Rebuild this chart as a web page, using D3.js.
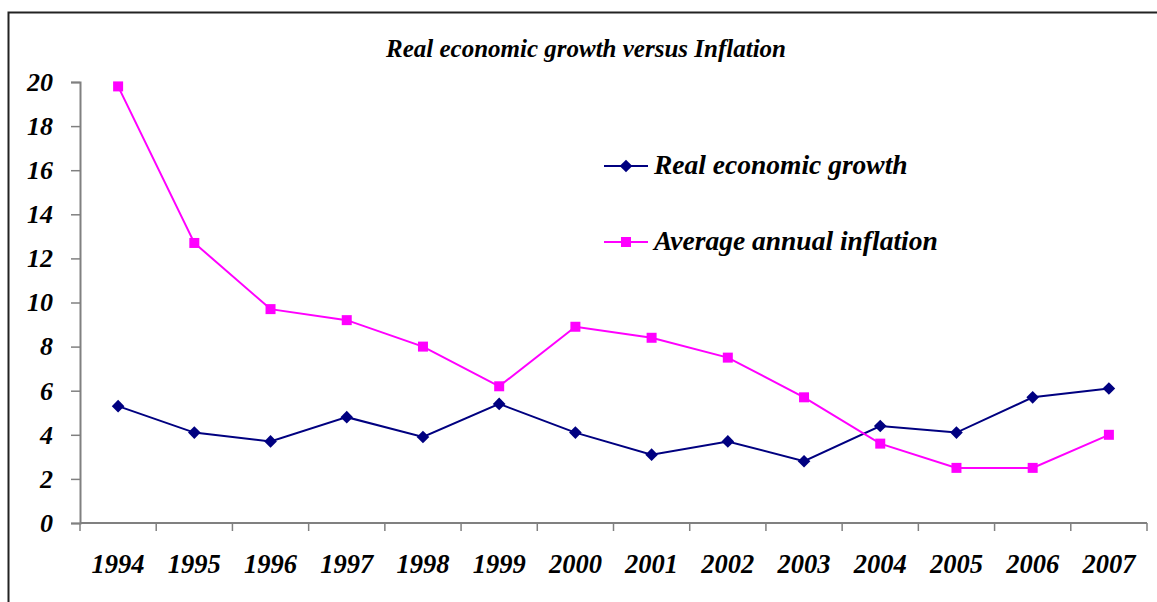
<!DOCTYPE html>
<html>
<head>
    <script src="https://d3js.org/d3.v7.min.js"></script>
    <style>
        body { margin: 0; background: #fff; }
        text { font-family: "Liberation Serif", "Times New Roman", serif; font-weight: bold; font-style: italic; fill: #000; }
    </style>
</head>
<body>
    <svg width="1157" height="602"></svg>
    <script>
        // Data
        const years = ["1994", "1995", "1996", "1997", "1998", "1999", "2000",
                       "2001", "2002", "2003", "2004", "2005", "2006", "2007"];
        const growth = [5.3, 4.1, 3.7, 4.8, 3.9, 5.4, 4.1, 3.1, 3.7, 2.8, 4.4, 4.1, 5.7, 6.1];
        const inflation = [19.8, 12.7, 9.7, 9.2, 8.0, 6.2, 8.9, 8.4, 7.5, 5.7, 3.6, 2.5, 2.5, 4.0];
        const yTicks = [0, 2, 4, 6, 8, 10, 12, 14, 16, 18, 20];
        const seriesNames = ["Real economic growth", "Average annual inflation"];

        const svg = d3.select("svg");
        const plotLeft = 80, plotRight = 1147, plotTop = 82, plotBottom = 523;

        // frame (top and left edges only visible)
        svg.append("path")
            .attr("d", "M8.5,602 L8.5,12.5 L1157,12.5")
            .attr("fill", "none").attr("stroke", "#222").attr("stroke-width", 2);

        svg.append("text")
            .attr("x", 586).attr("y", 57)
            .attr("text-anchor", "middle")
            .style("font-size", "25px")
            .text("Real economic growth versus Inflation");

        const x = d3.scaleBand().domain(years).range([plotLeft, plotRight]);
        const y = d3.scaleLinear().domain([0, 20]).range([plotBottom, plotTop]);
        const cx = d => x(d) + x.bandwidth() / 2;

        // y axis
        const yAxis = svg.append("g").attr("transform", `translate(${plotLeft},0)`)
            .call(d3.axisLeft(y).tickValues(yTicks).tickSize(9).tickPadding(18));
        // x axis with ticks at band boundaries
        const xAxis = svg.append("g").attr("transform", `translate(0,${plotBottom})`)
            .call(d3.axisBottom(x).tickSize(0).tickPadding(31));
        const bounds = years.map(d => x(d)).concat([plotRight]);
        xAxis.selectAll(".bound").data(bounds).enter().append("line")
            .attr("x1", d => d).attr("x2", d => d)
            .attr("y1", 0).attr("y2", 8)
            .attr("stroke", "#808080").attr("stroke-width", 1.5);

        [yAxis, xAxis].forEach(g => {
            g.select(".domain").attr("stroke", "#808080").attr("stroke-width", 2);
            g.selectAll(".tick line").attr("stroke", "#808080").attr("stroke-width", 1.5);
            g.selectAll(".tick text")
                .style("font-family", "'Liberation Serif', serif")
                .style("font-weight", "bold")
                .style("font-style", "italic")
                .attr("fill", "#000");
        });
        yAxis.selectAll(".tick text").style("font-size", "26px");
        xAxis.selectAll(".tick text").style("font-size", "26.5px");
        xAxis.select(".domain").attr("d", `M${plotLeft},0H${plotRight}`);

        const line = d3.line().x(d => cx(d.year)).y(d => y(d.v));
        // Excel-style diamond: a square turned 45 degrees
        const diamond = d3.symbol().type(d3.symbolSquare).size(80);
        const square = d3.symbol().type(d3.symbolSquare).size(100);

        function drawSeries(vals, color, sym, rot) {
            const pts = years.map((yr, i) => ({ year: yr, v: vals[i] }));
            svg.append("path").datum(pts)
                .attr("d", line)
                .attr("fill", "none").attr("stroke", color).attr("stroke-width", 2);
            svg.selectAll(null).data(pts).enter().append("path")
                .attr("d", sym)
                .attr("transform", d => `translate(${cx(d.year)},${y(d.v)}) rotate(${rot})`)
                .attr("fill", color);
        }
        drawSeries(growth, "#000080", diamond, 45);
        drawSeries(inflation, "#FF00FF", square, 0);

        // legend
        const legend = [
            { name: seriesNames[0], color: "#000080", sym: diamond, rot: 45, y: 166 },
            { name: seriesNames[1], color: "#FF00FF", sym: square, rot: 0, y: 242 }
        ];
        legend.forEach(l => {
            svg.append("line")
                .attr("x1", 604).attr("x2", 648).attr("y1", l.y).attr("y2", l.y)
                .attr("stroke", l.color).attr("stroke-width", 2);
            svg.append("path").attr("d", l.sym)
                .attr("transform", `translate(626,${l.y}) rotate(${l.rot})`).attr("fill", l.color);
            svg.append("text")
                .attr("x", 654).attr("y", l.y + 8)
                .style("font-size", "27.5px")
                .text(l.name);
        });
    </script>
</body>
</html>
